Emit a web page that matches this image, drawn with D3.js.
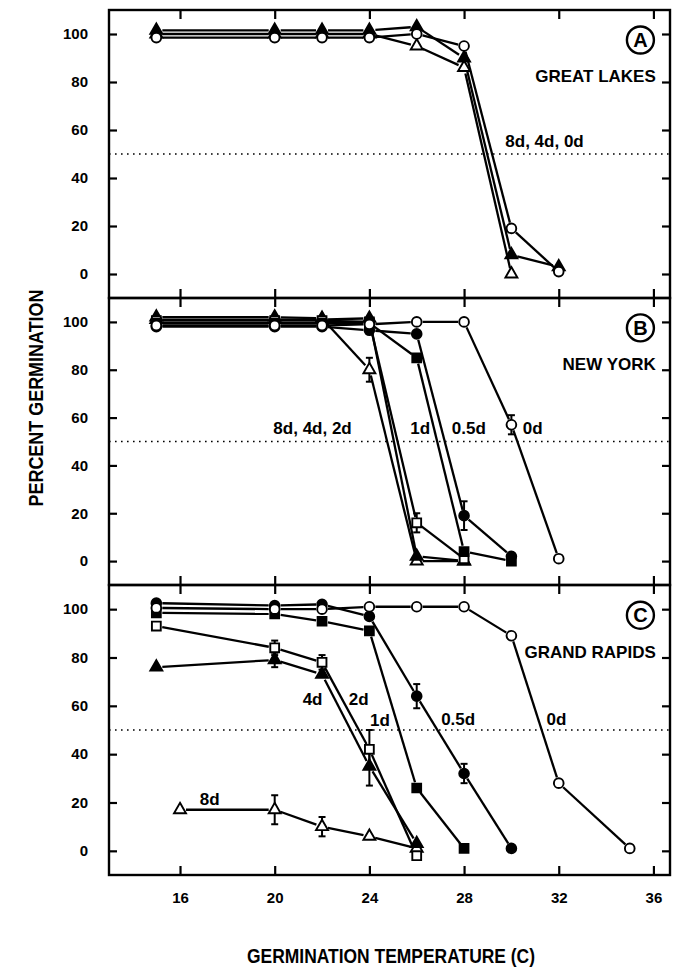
<!DOCTYPE html>
<html><head><meta charset="utf-8">
<script src="https://cdn.jsdelivr.net/npm/d3@7"></script>
<style>body{margin:0;background:#fff}svg{display:block}</style>
</head><body><svg id="chart" width="675" height="973"></svg>
<script>
// ================= DATA =================
const xTicks = [16, 20, 24, 28, 32, 36];
const yTicks = [0, 20, 40, 60, 80, 100];

// Panel A: GREAT LAKES
const tempsA0d = [15, 20, 22, 24, 26, 28, 30, 32];
const greatLakes0d = [98.5, 98.5, 98.5, 98.5, 100, 95, 19, 1];
const tempsA4d = [15, 20, 22, 24, 26, 28, 30, 32];
const greatLakes4d = [101.5, 101.5, 101.5, 101.5, 103, 90, 8, 3];
const tempsA8d = [15, 20, 22, 24, 26, 28, 30];
const greatLakes8d = [100, 100, 100, 100, 95, 86, 0];

// Panel B: NEW YORK
const tempsB0d = [15, 20, 22, 24, 26, 28, 30, 32];
const newYork0d = [98.5, 98.5, 98.5, 99, 100, 100, 57, 1];
const newYork0dErr = [0, 0, 0, 0, 0, 0, 4, 0];
const tempsB05d = [15, 20, 22, 24, 26, 28, 30];
const newYork05d = [98, 98, 98, 96.5, 95, 19, 2];
const newYork05dErr = [0, 0, 0, 0, 0, 6, 0];
const tempsB1d = [15, 20, 22, 24, 26, 28, 30];
const newYork1d = [99.5, 99.5, 99.5, 99.5, 85, 4, 0];
const tempsB2d = [15, 20, 22, 24, 26, 28];
const newYork2d = [100.5, 100.5, 100.5, 100, 16, 1];
const newYork2dErr = [0, 0, 0, 0, 4, 0];
const tempsB4d = [15, 20, 22, 24, 26, 28];
const newYork4d = [101, 101, 101, 101.5, 2, 0];
const tempsB8d = [15, 20, 22, 24, 26, 28];
const newYork8d = [102, 102, 101.5, 80, 0, 0];
const newYork8dErr = [0, 0, 0, 5, 0, 0];

// Panel C: GRAND RAPIDS
const tempsC0d = [15, 20, 22, 24, 26, 28, 30, 32, 35];
const grandRapids0d = [100.5, 100, 100, 101, 101, 101, 89, 28, 1];
const tempsC05d = [15, 20, 22, 24, 26, 28, 30];
const grandRapids05d = [102.5, 101.5, 102, 97, 64, 32, 1];
const grandRapids05dErr = [0, 0, 0, 0, 5, 4, 0];
const tempsC1d = [15, 20, 22, 24, 26, 28];
const grandRapids1d = [98.5, 98, 95, 91, 26, 1];
const tempsC2d = [15, 20, 22, 24, 26];
const grandRapids2d = [93, 84, 78, 42, -2];
const grandRapids2dErr = [0, 3, 3, 8, 0];
const tempsC4d = [15, 20, 22, 24, 26];
const grandRapids4d = [76, 79, 73, 35, 3];
const grandRapids4dErr = [0, 3, 0, 8, 0];
const tempsC8d = [16, 20, 22, 24, 26];
const grandRapids8d = [17, 17, 10, 6, 1];
const grandRapids8dErr = [0, 6, 4, 0, 0];

// ================= BUILD =================
function series(temps, vals, marker, errs) {
  return { marker, pts: temps.map((t, i) => ({ t, v: vals[i], e: errs ? errs[i] : 0 })) };
}

const panels = [
  {
    top: 10, bottom: 298, letter: "A", name: "GREAT LAKES",
    series: [
      series(tempsA8d, greatLakes8d, "triOpen"),
      series(tempsA4d, greatLakes4d, "triFilled"),
      series(tempsA0d, greatLakes0d, "circleOpen")
    ],
    labels: [{ text: "8d, 4d, 0d", t: 31.4, v: 53 }]
  },
  {
    top: 298, bottom: 585, letter: "B", name: "NEW YORK",
    series: [
      series(tempsB8d, newYork8d, "triOpen", newYork8dErr),
      series(tempsB4d, newYork4d, "triFilled"),
      series(tempsB2d, newYork2d, "squareOpen", newYork2dErr),
      series(tempsB1d, newYork1d, "squareFilled"),
      series(tempsB05d, newYork05d, "circleFilled", newYork05dErr),
      series(tempsB0d, newYork0d, "circleOpen", newYork0dErr)
    ],
    labels: [
      { text: "8d, 4d, 2d", t: 21.6, v: 53 },
      { text: "1d", t: 26.15, v: 53 },
      { text: "0.5d", t: 28.2, v: 53 },
      { text: "0d", t: 30.9, v: 53 }
    ]
  },
  {
    top: 585, bottom: 875, letter: "C", name: "GRAND RAPIDS",
    series: [
      series(tempsC8d, grandRapids8d, "triOpen", grandRapids8dErr),
      series(tempsC4d, grandRapids4d, "triFilled", grandRapids4dErr),
      series(tempsC2d, grandRapids2d, "squareOpen", grandRapids2dErr),
      series(tempsC1d, grandRapids1d, "squareFilled"),
      series(tempsC05d, grandRapids05d, "circleFilled", grandRapids05dErr),
      series(tempsC0d, grandRapids0d, "circleOpen")
    ],
    labels: [
      { text: "4d", t: 21.6, v: 60.5 },
      { text: "2d", t: 23.55, v: 60.5 },
      { text: "1d", t: 24.45, v: 51.5 },
      { text: "0.5d", t: 27.75, v: 52 },
      { text: "0d", t: 31.9, v: 52 },
      { text: "8d", t: 17.25, v: 19 }
    ]
  }
];

const FONT = "'Liberation Sans', Arial, Helvetica, sans-serif";
const left = 109, right = 670;
const x = d3.scaleLinear().domain([13, 36.7]).range([left, right]);

const svg = d3.select("#chart");
svg.append("rect").attr("width", 675).attr("height", 973).attr("fill", "#fff");

const markerDefs = {
  circleOpen:   { type: d3.symbolCircle, size: 74, fill: "#fff" },
  circleFilled: { type: d3.symbolCircle, size: 74, fill: "#000" },
  squareOpen:   { type: d3.symbolSquare, size: 78, fill: "#fff" },
  squareFilled: { type: d3.symbolSquare, size: 78, fill: "#000" },
  triOpen:      { type: d3.symbolTriangle, size: 62, fill: "#fff" },
  triFilled:    { type: d3.symbolTriangle, size: 62, fill: "#000" }
};

panels.forEach((p, pi) => {
  const y = d3.scaleLinear().domain([-10, 110]).range([p.bottom, p.top]);
  const g = svg.append("g");

  // dotted 50% line
  g.append("line")
    .attr("x1", left).attr("x2", right)
    .attr("y1", y(50)).attr("y2", y(50))
    .attr("stroke", "#000").attr("stroke-width", 1.6)
    .attr("stroke-dasharray", "1.6,4.4");

  // axes
  const axL = g.append("g").attr("transform", `translate(${left},0)`)
    .call(d3.axisLeft(y).tickValues(yTicks).tickSize(-8).tickPadding(21));
  const axR = g.append("g").attr("transform", `translate(${right},0)`)
    .call(d3.axisRight(y).tickValues(yTicks).tickSize(-8).tickFormat(""));
  const axT = g.append("g").attr("transform", `translate(0,${p.top})`)
    .call(d3.axisTop(x).tickValues(xTicks).tickSize(-9).tickFormat(""));
  const axB = g.append("g").attr("transform", `translate(0,${p.bottom})`)
    .call(d3.axisBottom(x).tickValues(xTicks).tickSize(-9).tickPadding(17)
      .tickFormat(pi === 2 ? d3.format("d") : ""));
  [axL, axR, axT, axB].forEach(a => {
    a.select(".domain").remove();
    a.selectAll(".tick line").attr("stroke", "#000").attr("stroke-width", 2.2);
    a.selectAll(".tick text").attr("font-family", FONT).attr("font-weight", "bold")
      .attr("font-size", 15).attr("fill", "#000");
  });

  // frame
  g.append("rect").attr("x", left).attr("y", p.top)
    .attr("width", right - left).attr("height", p.bottom - p.top)
    .attr("fill", "none").attr("stroke", "#000").attr("stroke-width", 2.4);

  // lines with gaps near markers
  const gap = 6;
  p.series.forEach(s => {
    for (let i = 0; i < s.pts.length - 1; i++) {
      const a = s.pts[i], b = s.pts[i + 1];
      const x0 = x(a.t), y0 = y(a.v), x1 = x(b.t), y1 = y(b.v);
      const dx = x1 - x0, dy = y1 - y0, L = Math.hypot(dx, dy);
      if (L <= 2 * gap + 1) continue;
      const ux = dx / L, uy = dy / L;
      g.append("line")
        .attr("x1", x0 + ux * gap).attr("y1", y0 + uy * gap)
        .attr("x2", x1 - ux * gap).attr("y2", y1 - uy * gap)
        .attr("stroke", "#000").attr("stroke-width", 2.3);
    }
  });

  // error bars
  p.series.forEach(s => {
    s.pts.filter(d => d.e > 0).forEach(d => {
      const cx = x(d.t);
      g.append("line").attr("x1", cx).attr("x2", cx)
        .attr("y1", y(d.v - d.e)).attr("y2", y(d.v + d.e))
        .attr("stroke", "#000").attr("stroke-width", 2);
      [d.v - d.e, d.v + d.e].forEach(v => {
        g.append("line").attr("x1", cx - 3.5).attr("x2", cx + 3.5)
          .attr("y1", y(v)).attr("y2", y(v))
          .attr("stroke", "#000").attr("stroke-width", 2);
      });
    });
  });

  // markers
  p.series.forEach(s => {
    const m = markerDefs[s.marker];
    g.selectAll(null).data(s.pts).enter().append("path")
      .attr("d", d3.symbol().type(m.type).size(m.size))
      .attr("transform", d => `translate(${x(d.t)},${y(d.v)})`)
      .attr("fill", m.fill).attr("stroke", "#000").attr("stroke-width", 1.9);
  });

  // annotations
  p.labels.forEach(l => {
    g.append("text").attr("x", x(l.t)).attr("y", y(l.v))
      .attr("text-anchor", "middle").attr("font-family", FONT)
      .attr("font-weight", "bold").attr("font-size", 17).attr("fill", "#000")
      .text(l.text);
  });

  // panel name
  g.append("text").attr("x", x(36.1)).attr("y", y(80))
    .attr("text-anchor", "end").attr("font-family", FONT)
    .attr("font-weight", "bold").attr("font-size", 17).attr("fill", "#000")
    .text(p.name);

  // circled letter
  const lx = x(35.45), ly = y(97.5);
  g.append("circle").attr("cx", lx).attr("cy", ly).attr("r", 13.5)
    .attr("fill", "#fff").attr("stroke", "#000").attr("stroke-width", 2.4);
  g.append("text").attr("x", lx).attr("y", ly).attr("dy", "0.36em")
    .attr("text-anchor", "middle").attr("font-family", FONT)
    .attr("font-weight", "bold").attr("font-size", 20).attr("fill", "#000")
    .text(p.letter);
});

// axis titles
svg.append("text")
  .attr("transform", "rotate(-90)")
  .attr("x", -398).attr("y", 43)
  .attr("text-anchor", "middle").attr("font-family", FONT)
  .attr("font-weight", "bold").attr("font-size", 20)
  .attr("textLength", 217).attr("lengthAdjust", "spacingAndGlyphs")
  .text("PERCENT GERMINATION");

svg.append("text")
  .attr("x", 391).attr("y", 963)
  .attr("text-anchor", "middle").attr("font-family", FONT)
  .attr("font-weight", "bold").attr("font-size", 20)
  .attr("textLength", 288).attr("lengthAdjust", "spacingAndGlyphs")
  .text("GERMINATION TEMPERATURE (C)");
</script>
</body></html>
